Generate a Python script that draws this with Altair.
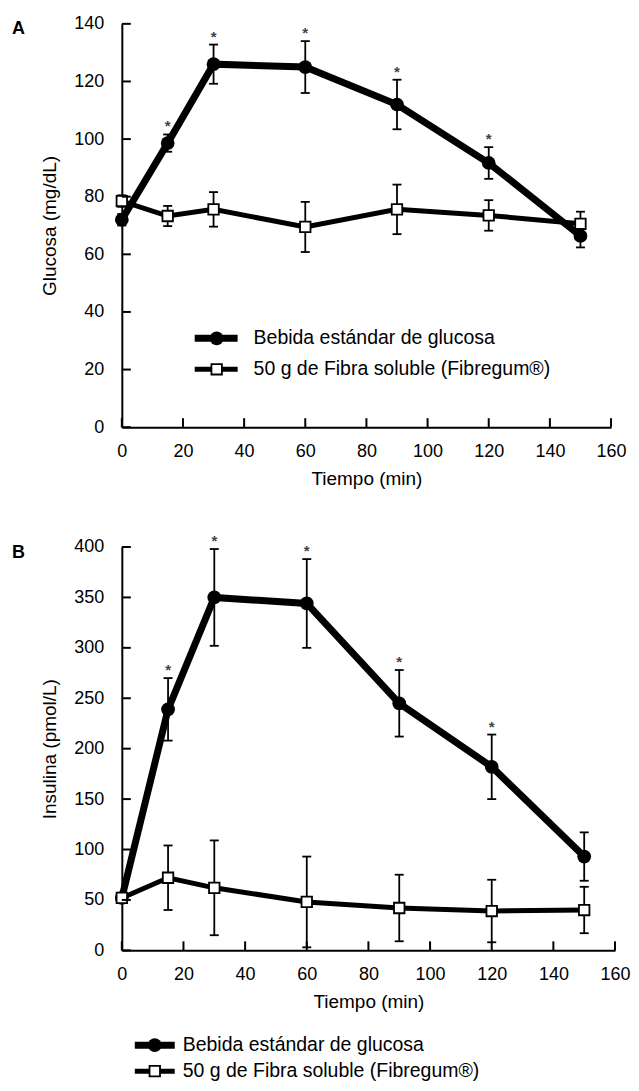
import altair as alt
import pandas as pd

# ---------------- data ----------------
time_min = [0, 15, 30, 60, 90, 120, 150]
series_names = ["Bebida estándar de glucosa", "50 g de Fibra soluble (Fibregum®)"]

glucose_std_mean = [72, 98.6, 126, 125, 112, 91.7, 66.4]
glucose_std_sd = [2, 3, 6.8, 9, 8.6, 5.5, 4]
glucose_fib_mean = [78.5, 73.3, 75.6, 69.5, 75.6, 73.5, 70.6]
glucose_fib_sd = [2, 3.5, 6, 8.7, 8.6, 5.3, 4.2]
glucose_sig = [False, True, True, True, True, True, False]

insulin_std_mean = [52, 239, 350, 344, 245, 182, 93]
insulin_std_sd = [3, 31, 48, 44, 33, 32, 24]
insulin_fib_mean = [52, 72, 62, 48, 42, 39, 40]
insulin_fib_sd = [3, 32, 47, 45, 33, 31, 23]
insulin_sig = [False, True, True, True, True, True, False]

x_ticks = [0, 20, 40, 60, 80, 100, 120, 140, 160]
glucose_ticks = [0, 20, 40, 60, 80, 100, 120, 140]
insulin_ticks = [0, 50, 100, 150, 200, 250, 300, 350, 400]

FONT = "Liberation Sans, Arial, sans-serif"
H = 404


def panel(letter, ytitle, std_mean, std_sd, fib_mean, fib_sd, sig, yticks, ymax, W,
          leg_y0, leg_dy, leg_x0, leg_x1, leg_xc, leg_tx):
    rows = []
    for i, t in enumerate(time_min):
        rows.append(dict(t=t, m=std_mean[i], sd=std_sd[i], s=series_names[0], sig=sig[i]))
    for i, t in enumerate(time_min):
        rows.append(dict(t=t, m=fib_mean[i], sd=fib_sd[i], s=series_names[1], sig=False))
    df = pd.DataFrame(rows)

    xscale = alt.Scale(domain=[0, 160], nice=False)
    yscale = alt.Scale(domain=[0, ymax], nice=False)
    xaxis = alt.Axis(values=x_ticks, ticks=False, title="Tiempo (min)", labelFlush=False,
                     labelPadding=15, titlePadding=9, grid=False)
    yaxis = alt.Axis(values=yticks, ticks=False, title=ytitle, labelPadding=18,
                     titlePadding=14, grid=False)

    def X(f):
        return alt.X(f, scale=xscale, axis=xaxis, title="Tiempo (min)")

    def Y(f):
        return alt.Y(f, scale=yscale, axis=yaxis, title=ytitle)

    base = alt.Chart(df).transform_calculate(lo="datum.m - datum.sd", hi="datum.m + datum.sd")
    std = base.transform_filter(alt.datum.s == series_names[0])
    fib = base.transform_filter(alt.datum.s == series_names[1])

    layers = []
    layers.append(std.mark_line(color="black", strokeWidth=7).encode(x=X("t:Q"), y=Y("m:Q")))
    layers.append(fib.mark_line(color="black", strokeWidth=5).encode(x=X("t:Q"), y=Y("m:Q")))
    layers.append(base.mark_rule(color="black", strokeWidth=1.8).encode(
        x=X("t:Q"), y=Y("lo:Q"), y2="hi:Q"))
    layers.append(base.mark_tick(orient="horizontal", size=9, thickness=1.8, color="black",
                                 opacity=1).encode(x=X("t:Q"), y=Y("hi:Q")))
    layers.append(base.mark_tick(orient="horizontal", size=9, thickness=1.8, color="black",
                                 opacity=1).encode(x=X("t:Q"), y=Y("lo:Q")))
    layers.append(std.mark_point(shape="circle", filled=True, size=190, color="black",
                                 opacity=1).encode(x=X("t:Q"), y=Y("m:Q")))
    layers.append(fib.mark_point(shape="square", filled=True, fill="white", stroke="black",
                                 strokeWidth=1.8, size=110, opacity=1).encode(x=X("t:Q"), y=Y("m:Q")))
    layers.append(std.transform_filter("datum.sig").mark_text(
        text="*", dy=-8, fontSize=15, fontWeight="bold", color="#444", baseline="middle",
        font=FONT
    ).encode(x=X("t:Q"), y=Y("hi:Q")))

    # inward ticks
    yt = alt.Chart(pd.DataFrame({"v": yticks})).mark_rule(color="black", strokeWidth=2).encode(
        y=Y("v:Q"), x=alt.value(0), x2=alt.value(9))
    xt = alt.Chart(pd.DataFrame({"v": x_ticks})).mark_rule(color="black", strokeWidth=2).encode(
        x=X("v:Q"), y=alt.value(H), y2=alt.value(H - 9))
    layers += [yt, xt]

    # panel letter
    layers.append(alt.Chart(pd.DataFrame({"l": [letter]})).mark_text(
        align="left", baseline="alphabetic", fontSize=18, fontWeight="bold",
        font=FONT, color="black"
    ).encode(text="l:N", x=alt.value(-110), y=alt.value(10.6)))

    # legend
    for i, name in enumerate(series_names):
        ly = leg_y0 + i * leg_dy
        ld = pd.DataFrame({"l": [name]})
        lc = alt.Chart(ld)
        layers.append(lc.mark_rule(color="black", strokeWidth=7 if i == 0 else 5).encode(
            x=alt.value(leg_x0), x2=alt.value(leg_x1), y=alt.value(ly)))
        if i == 0:
            layers.append(lc.mark_point(shape="circle", filled=True, size=190, color="black",
                                        opacity=1).encode(x=alt.value(leg_xc), y=alt.value(ly)))
        else:
            layers.append(lc.mark_point(shape="square", filled=True, fill="white", stroke="black",
                                        strokeWidth=1.8, size=110, opacity=1).encode(
                x=alt.value(leg_xc), y=alt.value(ly)))
        layers.append(lc.mark_text(align="left", baseline="middle", fontSize=19.5, font=FONT,
                                   color="black").encode(
            text="l:N", x=alt.value(leg_tx), y=alt.value(ly)))

    return alt.layer(*layers).properties(width=W, height=H)


panelA = panel("A", "Glucosa (mg/dL)", glucose_std_mean, glucose_std_sd, glucose_fib_mean,
               glucose_fib_sd, glucose_sig, glucose_ticks, 140, 490,
               315, 31, 73, 116, 95, 132)
panelB = panel("B", "Insulina (pmol/L)", insulin_std_mean, insulin_std_sd, insulin_fib_mean,
               insulin_fib_sd, insulin_sig, insulin_ticks, 400, 494,
               499, 26, 13, 53, 33, 61)

chart = alt.vconcat(panelA, panelB, spacing=46).properties(
    padding={"left": 4, "top": 6, "right": 0, "bottom": 0},
    background="white",
).configure_view(stroke=None).configure_axis(
    domainColor="black", domainWidth=2, labelFont=FONT, labelFontSize=18, labelColor="black",
    titleFont=FONT, titleFontSize=19, titleFontWeight="normal", titleColor="black",
)

chart.save("out.html", embed_options={"renderer": "svg", "actions": False})
